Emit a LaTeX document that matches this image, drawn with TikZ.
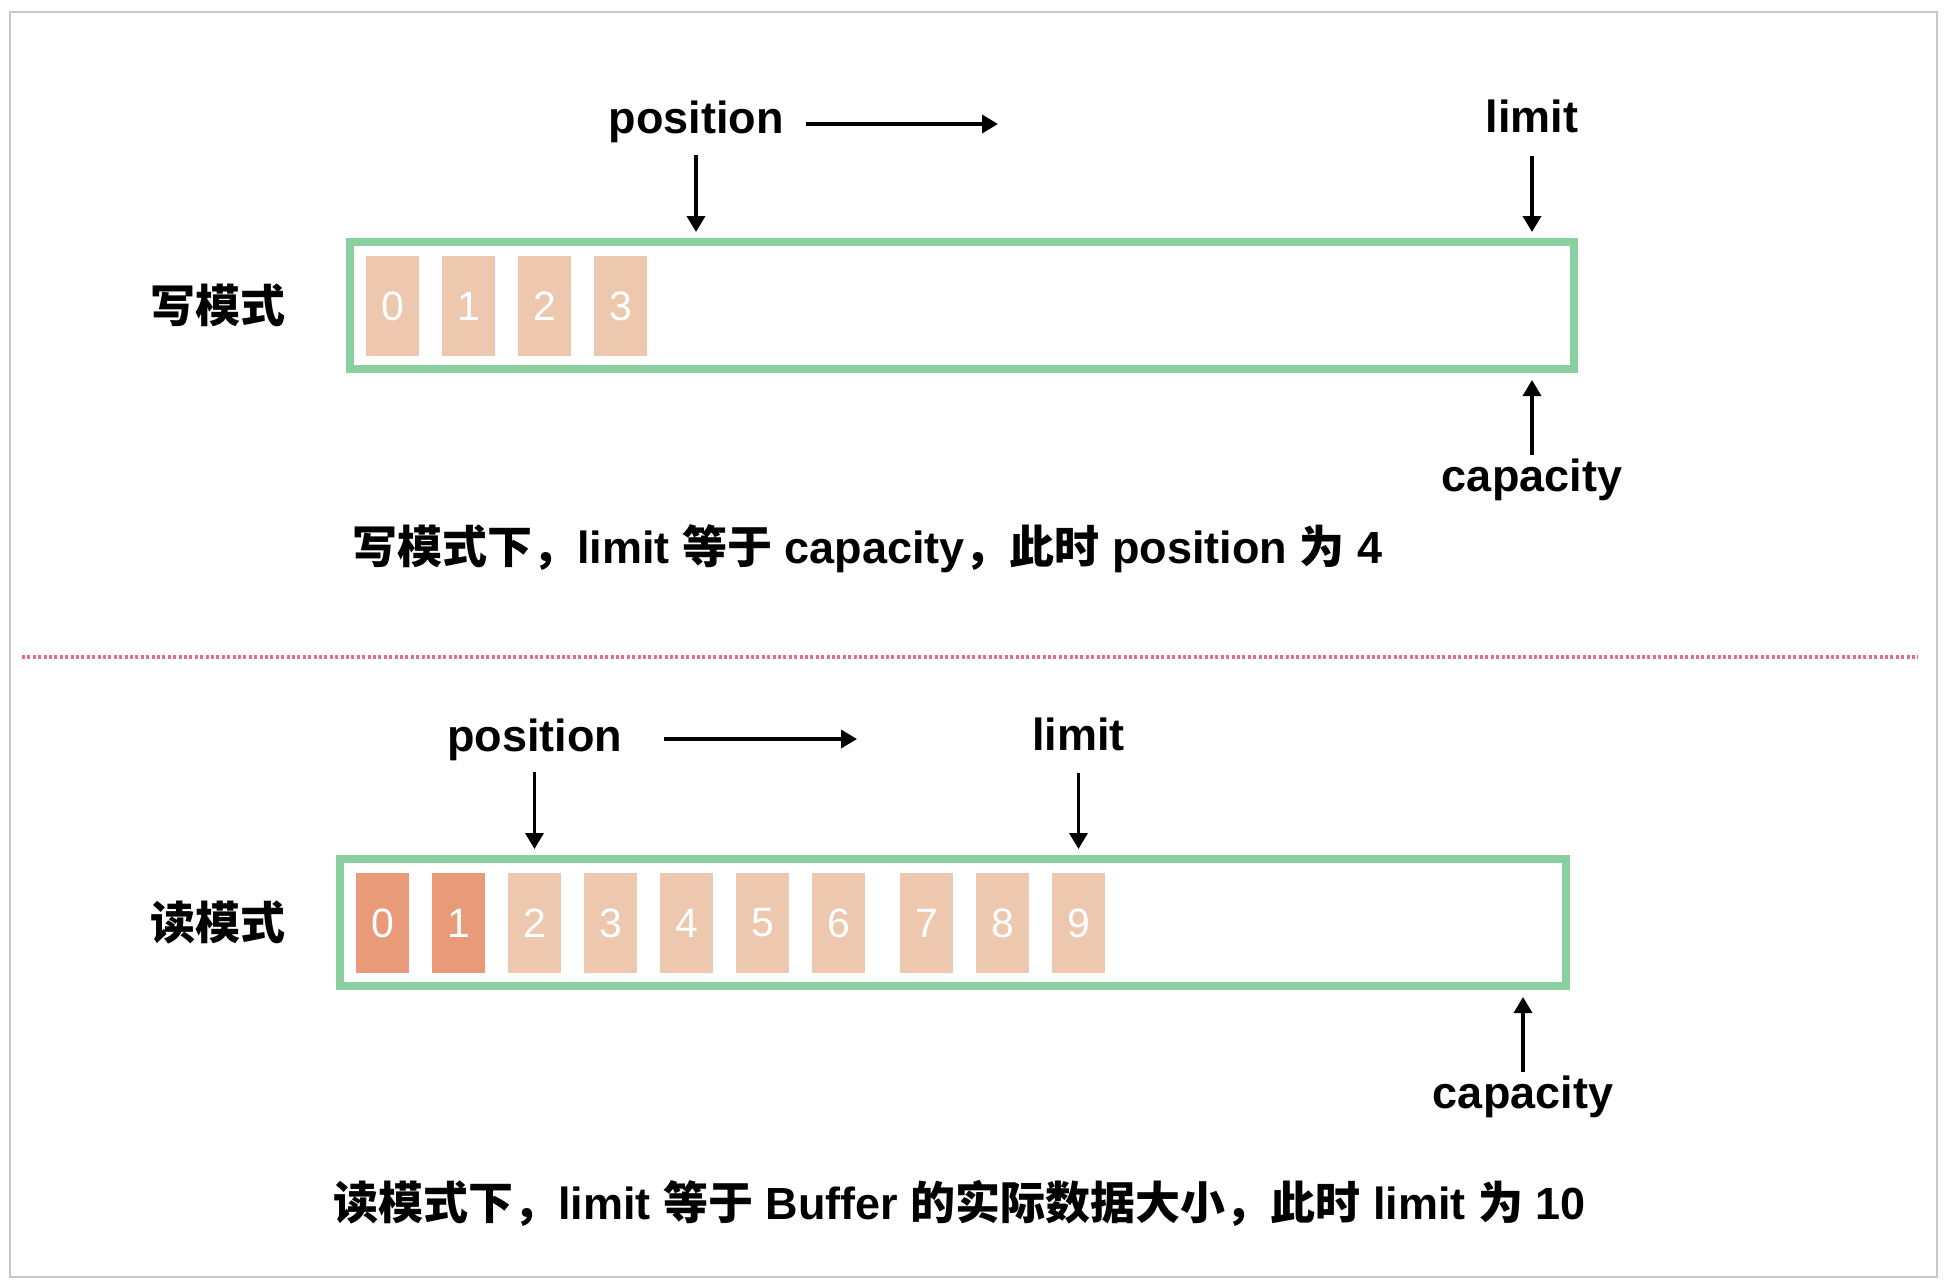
\documentclass[tikz,border=0pt]{standalone}
\usepackage{fontspec}
\setmainfont{Liberation Sans}
\newfontfamily\cjk{Noto Sans CJK SC}
\usetikzlibrary{arrows.meta}
\definecolor{boxgreen}{RGB}{138,207,158}
\definecolor{celllight}{RGB}{237,199,174}
\definecolor{celldark}{RGB}{232,154,121}
\definecolor{dotred}{RGB}{228,110,136}
\definecolor{framegray}{RGB}{200,200,200}
\newcommand{\zh}[1]{{\cjk #1}}
\begin{document}
\begin{tikzpicture}[x=1pt,y=-1pt,
  lbl/.style={inner sep=0pt, font=\fontsize{45}{54}\selectfont\bfseries},
  buf/.style={draw=boxgreen, line width=8pt, inner sep=0pt, minimum height=127pt},
  cellbox/.style={fill=celllight, minimum width=53pt, minimum height=100pt, inner sep=0pt, text=white, font=\fontsize{41}{41}\selectfont},
  darkcell/.style={cellbox, fill=celldark},
  arr/.style={-{Triangle[width=18pt,length=16pt]}, line width=3.6pt, black},
]
\useasboundingbox (0,0) rectangle (1944,1283);
\fill[white] (0,0) rectangle (1944,1283);
\draw[framegray, line width=2.5pt] (10,12) rectangle (1937,1277);

% ---------- write mode ----------
\node[lbl] (wmode) at (218,305.5) {\zh{写模式}};
\node[buf, minimum width=1224pt] (wbox) at (962,305.5) {};
\foreach \i in {0,...,3} {
  \node[cellbox] (wc\i) at (392.5+76*\i,306) {\i};
}
\node[lbl, anchor=base] (wpos) at (696,133) {position};
\coordinate (wposstart) at (806,124);
\coordinate (wposend) at (998,124);
\draw[arr] (wposstart) -- (wposend);
\draw[arr, shorten <=12pt, shorten >=6pt] (wpos.south) -- (wpos.south |- wbox.north);
\node[lbl, anchor=base] (wlim) at (1532,132) {limit};
\draw[arr, shorten <=23pt, shorten >=6pt] (wlim.south) -- (wlim.south |- wbox.north);
\node[lbl, anchor=base] (wcap) at (1532,491) {capacity};
\draw[arr, shorten <=3pt, shorten >=7pt] (wcap.north) -- (wcap.north |- wbox.south);
\node[lbl, anchor=base west] (wcap2) at (352,563)
  {\zh{写模式下，}limit \zh{等于} capacity\zh{，此时} position \zh{为} 4};

% ---------- separator ----------
\draw[dotred, line width=3.5pt, dash pattern=on 3pt off 2.4pt] (22,657) -- (1918,657);

% ---------- read mode ----------
\node[lbl] (rmode) at (218,922.5) {\zh{读模式}};
\node[buf, minimum width=1226pt] (rbox) at (953,922.5) {};
\node[darkcell] (rc0) at (382.5,923) {0};
\node[darkcell] (rc1) at (458.5,923) {1};
\foreach \i in {2,...,6} {
  \node[cellbox] (rc\i) at (382.5+76*\i,923) {\i};
}
\foreach \i in {7,8,9} {
  \node[cellbox] (rc\i) at (394.5+76*\i,923) {\i};
}
\node[lbl, anchor=base] (rpos) at (534.5,751) {position};
\coordinate (rposstart) at (664,739);
\coordinate (rposend) at (857,739);
\draw[arr] (rposstart) -- (rposend);
\draw[arr, shorten <=11pt, shorten >=6pt] (rpos.south) -- (rpos.south |- rbox.north);
\node[lbl, anchor=base] (rlim) at (1078.5,750) {limit};
\draw[arr, shorten <=22pt, shorten >=6pt] (rlim.south) -- (rlim.south |- rbox.north);
\node[lbl, anchor=base] (rcap) at (1523,1108) {capacity};
\draw[arr, shorten <=3pt, shorten >=7pt] (rcap.north) -- (rcap.north |- rbox.south);
\node[lbl, anchor=base west] (rcap2) at (333,1219)
  {\zh{读模式下，}limit \zh{等于} Buffer \zh{的实际数据大小，此时} limit \zh{为} 10};
\end{tikzpicture}
\end{document}
